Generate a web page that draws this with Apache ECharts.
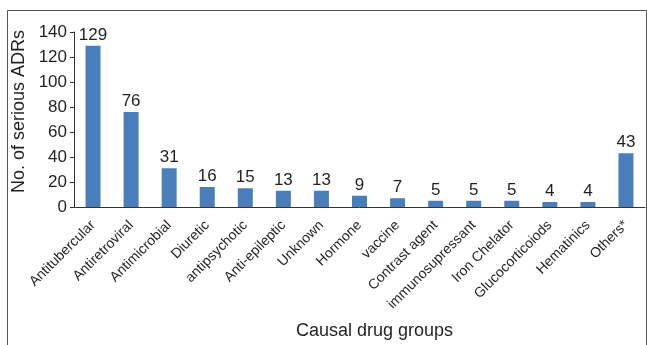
<!DOCTYPE html>
<html>
<head>
<meta charset="utf-8">
<script src="https://cdn.jsdelivr.net/npm/echarts@6/dist/echarts.min.js"></script>
<style>
  html, body { margin: 0; padding: 0; background: #fff; }
  #chart { width: 647px; height: 345px; }
</style>
</head>
<body>
<div id="chart"></div>
<script>
const categories = [
  'Antitubercular', 'Antiretroviral', 'Antimicrobial', 'Diuretic', 'antipsychotic',
  'Anti-epileptic', 'Unknown', 'Hormone', 'vaccine', 'Contrast agent',
  'immunosupressant', 'Iron Chelator', 'Glucocorticoiods', 'Hematinics', 'Others*'
]
const adrCounts = [129, 76, 31, 16, 15, 13, 13, 9, 7, 5, 5, 5, 4, 4, 43]

const font = 'Liberation Sans, Arial, sans-serif'
const textColor = '#231f20'

const chart = echarts.init(document.getElementById('chart'))
chart.setOption({
  animation: false,
  textStyle: { fontFamily: font },
  graphic: [
    {
      type: 'rect',
      shape: { x: 7.5, y: 10.5, width: 639, height: 340 },
      style: { fill: 'none', stroke: '#555', lineWidth: 1 },
      silent: true
    }
  ],
  grid: { left: 74, right: 2, top: 32, bottom: 138 },
  xAxis: {
    type: 'category',
    data: categories,
    name: 'Causal drug groups',
    nameLocation: 'middle',
    nameGap: 115,
    nameTextStyle: { fontSize: 18, color: textColor, padding: [0, 0, 0, 30] },
    axisLine: { lineStyle: { color: '#333', width: 1 } },
    axisTick: { length: 4, lineStyle: { color: '#333' } },
    axisLabel: { rotate: 45, fontSize: 14, color: textColor, margin: 16, interval: 0 }
  },
  yAxis: {
    type: 'value',
    min: 0,
    max: 140,
    interval: 20,
    name: 'No. of serious ADRs',
    nameLocation: 'middle',
    nameGap: 42,
    nameTextStyle: { fontSize: 18, color: textColor, padding: [0, 0, 0, 16] },
    splitLine: { show: false },
    axisLine: { show: true, lineStyle: { color: '#333', width: 1 } },
    axisTick: { show: true, length: 4, lineStyle: { color: '#333' } },
    axisLabel: { fontSize: 17, color: textColor, margin: 7 }
  },
  series: [
    {
      type: 'bar',
      data: adrCounts,
      barWidth: 15,
      itemStyle: { color: '#4a7ebb' },
      label: {
        show: true,
        position: 'top',
        distance: 2,
        fontSize: 17,
        color: textColor
      }
    }
  ]
})
</script>
</body>
</html>
